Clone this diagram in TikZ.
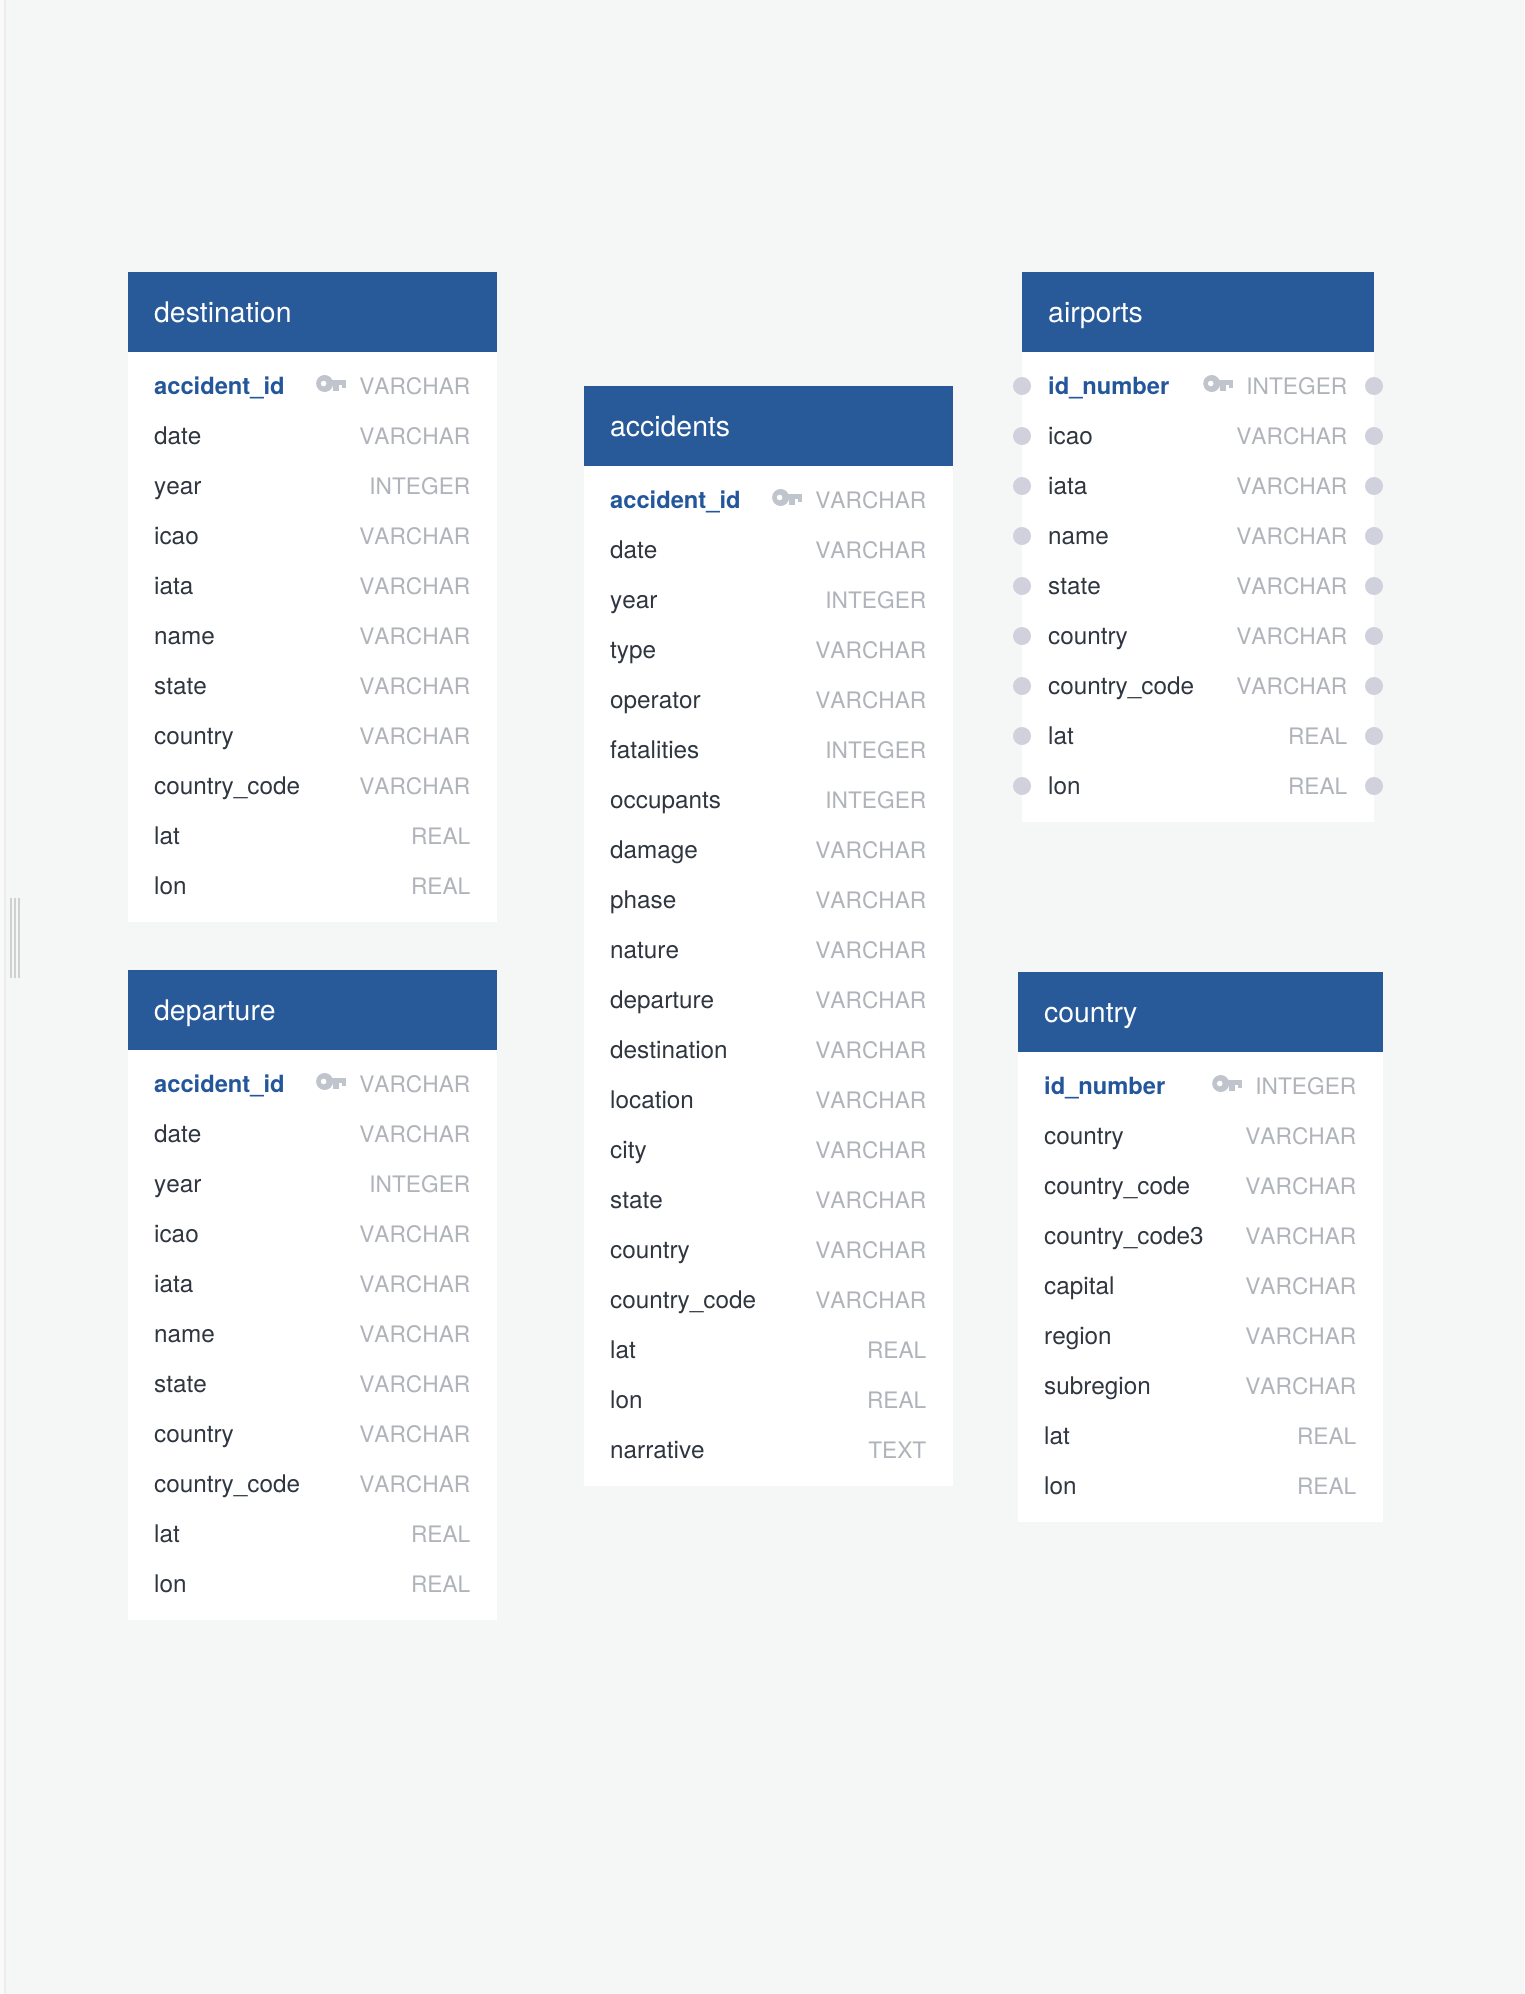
\documentclass[tikz,border=0pt]{standalone}
\usepackage{fontspec}
\setmainfont[Kerning=Off]{TeX Gyre Heros}
\usetikzlibrary{calc}
\definecolor{pageC}{HTML}{F5F7F6}
\definecolor{stripC}{HTML}{FAFAFA}
\definecolor{stripEdge}{HTML}{EDEDED}
\definecolor{gripC}{HTML}{D0D0D0}
\definecolor{headC}{HTML}{285A99}
\definecolor{pkC}{HTML}{23569A}
\definecolor{nameC}{HTML}{2F3640}
\definecolor{typeC}{HTML}{B0B4BA}
\definecolor{keyC}{HTML}{C0C4CC}
\definecolor{portC}{HTML}{D0D1DC}
\def\headH{80}
\def\firstRow{34}
\def\rowStep{50}
\def\padX{26}
\def\padTail{36}
\def\portR{9}

\tikzset{
  titletext/.style={anchor=base west, inner sep=0pt, text=white, font=\fontsize{28.4}{32}\selectfont},
  colname/.style={anchor=base west, inner sep=0pt, text=nameC, font=\fontsize{24.3}{28}\selectfont},
  pkname/.style={anchor=base west, inner sep=0pt, text=pkC, font=\bfseries\fontsize{23.7}{28}\selectfont},
  coltype/.style={anchor=base east, inner sep=0pt, text=typeC, font=\fontsize{22.7}{28}\selectfont},
  portdot/.style={circle, fill=portC, inner sep=0pt, minimum size=2*\portR},
  pkey/.pic={
    \fill[keyC] (-21.5,-2.5) circle (8.5);
    \fill[white] (-22.5,-2.5) circle (2.8);
    \fill[keyC] (-16,-6.5) rectangle (0,-1);
    \fill[keyC] (-13,-1) rectangle (-7,5);
    \fill[keyC] (-4.5,-1) rectangle (0,2);
  }
}

% id, left, right, top, title, rows (first row is the primary key)
\newcommand{\dbtable}[6]{
  \pgfmathsetmacro{\bodyTop}{#4+\headH}
  \def\rowCount{0}
  \foreach \colname/\coltype [count=\i] in {#6} {\xdef\rowCount{\i}}
  \pgfmathsetmacro{\bodyBot}{\bodyTop+\firstRow+(\rowCount-1)*\rowStep+\padTail}
  \fill[white] (#2,\bodyTop) rectangle (#3,\bodyBot);
  \fill[headC] (#2,#4) rectangle (#3,\bodyTop);
  \node[titletext] (#1-title) at ({#2+\padX},{#4+50}) {#5};
  \foreach \colname/\coltype [count=\i] in {#6} {
    \pgfmathsetmacro{\rowY}{\bodyTop+\firstRow+(\i-1)*\rowStep}
    \ifnum\i=1 \def\namestyle{pkname}\else\def\namestyle{colname}\fi
    \node[\namestyle] (#1-name-\i) at ({#2+\padX},{\rowY+8}) {\colname};
    \node[coltype] (#1-type-\i) at ({#3-26.5},{\rowY+8}) {\coltype};
  }
  \path ([shift={(-13,-8)}]#1-type-1.base west) pic {pkey};
}

\begin{document}
\begin{tikzpicture}[x=1pt, y=-1pt]

  \useasboundingbox (0,0) rectangle (1524,1994);

  % Page
  \fill[pageC] (0,0) rectangle (1524,1994);
  \fill[stripC] (0,0) rectangle (4,1994);
  \fill[stripEdge] (4,0) rectangle (5.5,1994);
  \foreach \gripX in {10,14,18} {
    \fill[gripC] (\gripX,898) rectangle ({\gripX+2},978);
  }

  % Left column
  \dbtable{destination}{128}{497}{272}{destination}{accident\_id/VARCHAR, date/VARCHAR, year/INTEGER,
    icao/VARCHAR, iata/VARCHAR, name/VARCHAR, state/VARCHAR, country/VARCHAR,
    country\_code/VARCHAR, lat/REAL, lon/REAL}
  \dbtable{departure}{128}{497}{970}{departure}{accident\_id/VARCHAR, date/VARCHAR, year/INTEGER,
    icao/VARCHAR, iata/VARCHAR, name/VARCHAR, state/VARCHAR, country/VARCHAR,
    country\_code/VARCHAR, lat/REAL, lon/REAL}

  % Middle column
  \dbtable{accidents}{584}{953}{386}{accidents}{accident\_id/VARCHAR, date/VARCHAR, year/INTEGER,
    type/VARCHAR, operator/VARCHAR, fatalities/INTEGER, occupants/INTEGER, damage/VARCHAR,
    phase/VARCHAR, nature/VARCHAR, departure/VARCHAR, destination/VARCHAR, location/VARCHAR,
    city/VARCHAR, state/VARCHAR, country/VARCHAR, country\_code/VARCHAR, lat/REAL, lon/REAL,
    narrative/TEXT}

  % Right column
  \dbtable{airports}{1022}{1374}{272}{airports}{id\_number/INTEGER, icao/VARCHAR, iata/VARCHAR,
    name/VARCHAR, state/VARCHAR, country/VARCHAR, country\_code/VARCHAR, lat/REAL, lon/REAL}
  \dbtable{country}{1018}{1383}{972}{country}{id\_number/INTEGER, country/VARCHAR,
    country\_code/VARCHAR, country\_code3/VARCHAR, capital/VARCHAR, region/VARCHAR,
    subregion/VARCHAR, lat/REAL, lon/REAL}

  % Ports on the airports table
  \foreach \i in {1,...,9} {
    \pgfmathsetmacro{\portY}{386+(\i-1)*\rowStep}
    \node[portdot] (airports-portl-\i) at (1022,\portY) {};
    \node[portdot] (airports-portr-\i) at (1374,\portY) {};
  }
\end{tikzpicture}
\end{document}
